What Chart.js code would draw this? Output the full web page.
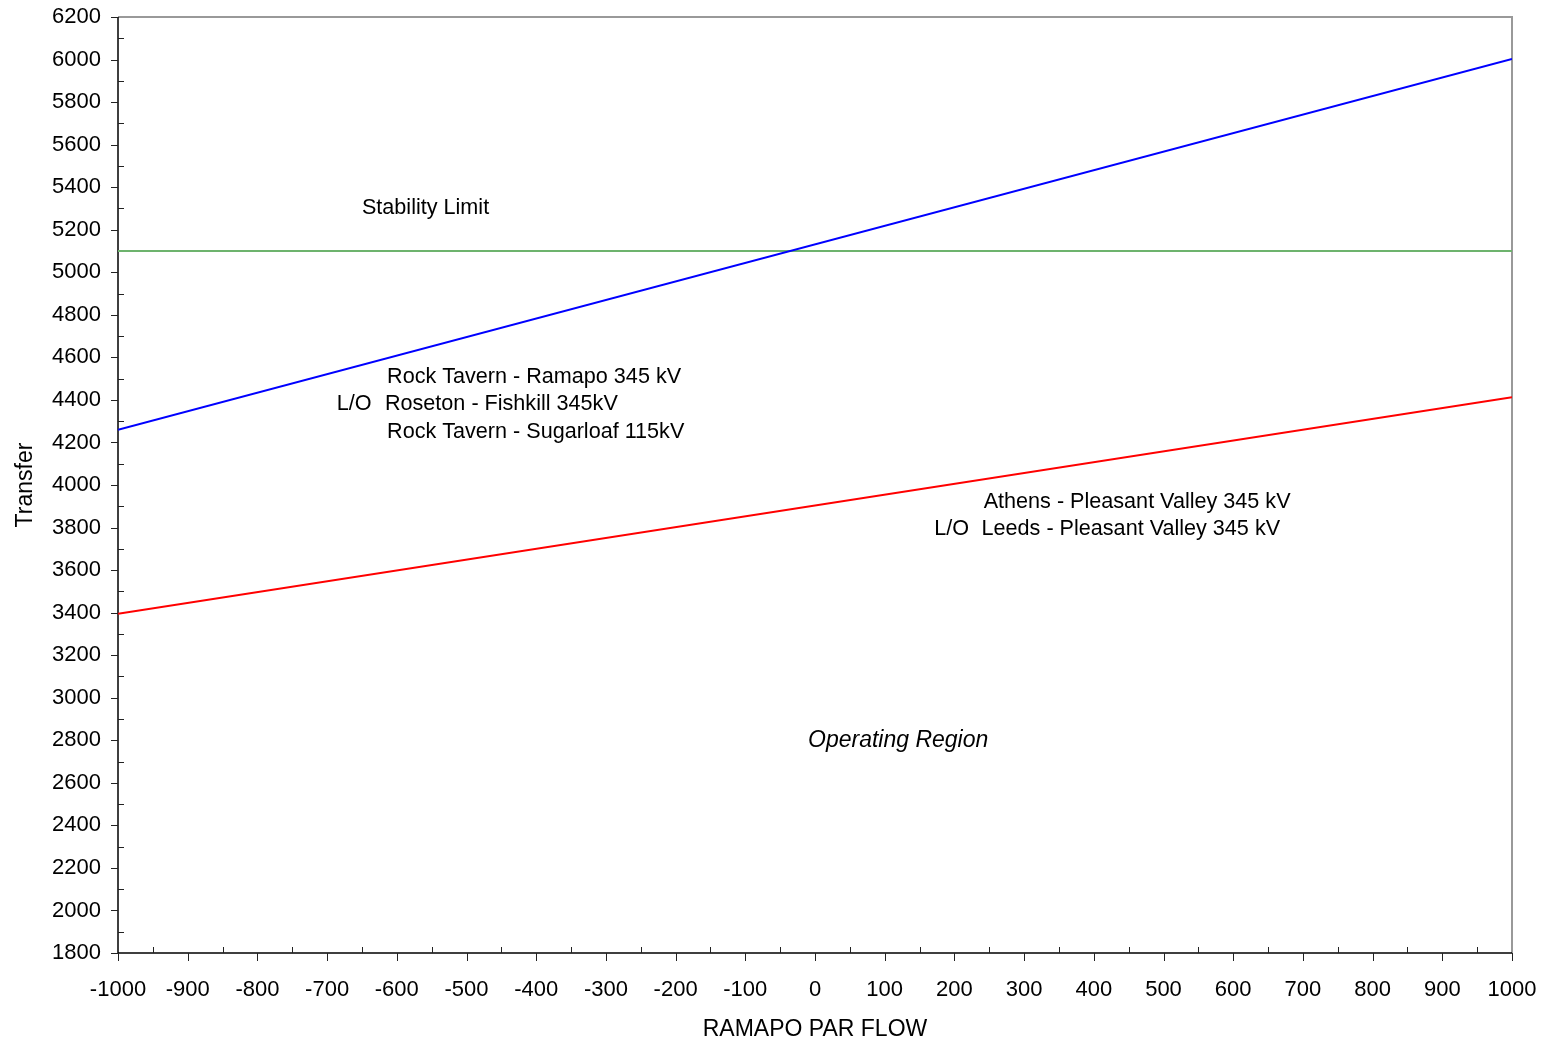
<!DOCTYPE html>
<html>
<head>
<meta charset="utf-8">
<title>Transfer vs Ramapo PAR Flow</title>
<script src="https://cdn.jsdelivr.net/npm/chart.js@4.4.0/dist/chart.umd.min.js"></script>
<style>
  html, body { margin: 0; padding: 0; background: #fff; }
  #wrap { width: 1549px; height: 1040px; }
</style>
</head>
<body>
<div id="wrap"><canvas id="transferChart"></canvas></div>
<script>
// values
const parFlow = [-1000, 1000];
const rockTavernLimit = [4260, 6003];
const athensLimit = [3395, 4412];
const stabilityLimit = [5100, 5100];

const xTickValues = [-1000, -900, -800, -700, -600, -500, -400, -300, -200, -100, 0,
                     100, 200, 300, 400, 500, 600, 700, 800, 900, 1000];
const yTickValues = [1800, 2000, 2200, 2400, 2600, 2800, 3000, 3200, 3400, 3600, 3800, 4000,
                     4200, 4400, 4600, 4800, 5000, 5200, 5400, 5600, 5800, 6000, 6200];

// text notes placed in data units
const noteText = ["Stability Limit",
                  "Rock Tavern - Ramapo 345 kV", "L/O", "Roseton - Fishkill 345kV", "Rock Tavern - Sugarloaf 115kV",
                  "Athens - Pleasant Valley 345 kV", "L/O", "Leeds - Pleasant Valley 345 kV",
                  "Operating Region"];
const noteX = [-650, -614, -686, -617, -614, 242, 171, 239, -10];
const noteY = [5300, 4507, 4380, 4380, 4250, 3920, 3793, 3793, 2797];

const FONT = "'Liberation Sans', Arial, sans-serif";

function toPoints(ys) {
    return parFlow.map((x, i) => ({ x: x, y: ys[i] }));
}

// axes, minor ticks and frame drawn like the original spreadsheet chart
const frameAndNotes = {
    id: "frameAndNotes",
    beforeDatasetsDraw(chart) {
        const { ctx, chartArea: a, scales: { x, y } } = chart;
        ctx.save();
        ctx.strokeStyle = "#999999";
        ctx.lineWidth = 2;
        ctx.beginPath();
        ctx.moveTo(a.left, a.top);
        ctx.lineTo(a.right, a.top);
        ctx.lineTo(a.right, a.bottom);
        ctx.stroke();

        ctx.strokeStyle = "#000000";
        ctx.lineWidth = 1.5;
        ctx.beginPath();
        ctx.moveTo(a.left, a.top);
        ctx.lineTo(a.left, a.bottom);
        ctx.lineTo(a.right, a.bottom);
        ctx.stroke();

        ctx.lineWidth = 1;
        ctx.strokeStyle = "#222222";
        ctx.beginPath();
        xTickValues.forEach((v, i) => {
            const px = Math.round(x.getPixelForValue(v)) + 0.5;
            ctx.moveTo(px, a.bottom);
            ctx.lineTo(px, a.bottom + 8);
            if (i < xTickValues.length - 1) {
                const mx = Math.round(x.getPixelForValue(v + 50)) + 0.5;
                ctx.moveTo(mx, a.bottom);
                ctx.lineTo(mx, a.bottom - 6);
            }
        });
        yTickValues.forEach((v, i) => {
            const py = Math.round(y.getPixelForValue(v)) + 0.5;
            ctx.moveTo(a.left, py);
            ctx.lineTo(a.left - 7, py);
            if (i < yTickValues.length - 1) {
                const my = Math.round(y.getPixelForValue(v + 100)) + 0.5;
                ctx.moveTo(a.left, my);
                ctx.lineTo(a.left + 6, my);
            }
        });
        ctx.stroke();
        ctx.restore();
    },
    afterDatasetsDraw(chart) {
        const { ctx, scales: { x, y } } = chart;
        ctx.save();
        ctx.fillStyle = "#000000";
        ctx.textAlign = "left";
        ctx.textBaseline = "middle";
        noteText.forEach((t, i) => {
            ctx.font = t === "Operating Region" ? "italic 23px " + FONT : "21.6px " + FONT;
            ctx.fillText(t, x.getPixelForValue(noteX[i]), y.getPixelForValue(noteY[i]));
        });
        ctx.restore();
    }
};

const ctx = document.getElementById("transferChart").getContext("2d");
const transferChart = new Chart(ctx, {
    type: "line",
    data: {
        datasets: [{
            label: "Rock Tavern - Ramapo",
            data: toPoints(rockTavernLimit),
            borderColor: "#0000ff",
            borderWidth: 2,
            pointRadius: 0
        }, {
            label: "Athens - Pleasant Valley",
            data: toPoints(athensLimit),
            borderColor: "#ff0000",
            borderWidth: 2,
            pointRadius: 0
        }, {
            label: "Stability Limit",
            data: toPoints(stabilityLimit),
            borderColor: "#6db36d",
            borderWidth: 2,
            pointRadius: 0
        }]
    },
    plugins: [frameAndNotes],
    options: {
        responsive: true,
        maintainAspectRatio: false,
        animation: false,
        layout: { padding: { top: 17, right: 37, left: 0, bottom: 0 } },
        plugins: {
            legend: { display: false },
            tooltip: { enabled: false }
        },
        scales: {
            x: {
                type: "linear",
                min: -1000,
                max: 1000,
                afterBuildTicks: s => { s.ticks = xTickValues.map(v => ({ value: v })); },
                afterFit: s => {
                    s.height = 87;
                    s.paddingLeft = 0;
                    s.paddingRight = 0;
                },
                grid: { display: false, drawTicks: false },
                border: { display: false },
                ticks: {
                    color: "#000000",
                    padding: 24,
                    maxRotation: 0,
                    autoSkip: false,
                    callback: v => String(v),
                    font: { family: FONT, size: 22 }
                },
                title: {
                    display: true,
                    text: "RAMAPO PAR FLOW",
                    color: "#000000",
                    padding: { top: 0, bottom: -3 },
                    font: { family: FONT, size: 23 }
                }
            },
            y: {
                min: 1800,
                max: 6200,
                afterBuildTicks: s => { s.ticks = yTickValues.map(v => ({ value: v })); },
                afterFit: s => {
                    s.width = 118;
                    s.paddingTop = 0;
                    s.paddingBottom = 0;
                },
                grid: { display: false, drawTicks: false },
                border: { display: false },
                ticks: {
                    color: "#000000",
                    padding: 17,
                    autoSkip: false,
                    callback: v => String(v),
                    font: { family: FONT, size: 22 }
                },
                title: {
                    display: true,
                    text: "Transfer",
                    color: "#000000",
                    padding: { top: 12, bottom: 0 },
                    font: { family: FONT, size: 23 }
                }
            }
        }
    }
});
</script>
</body>
</html>
